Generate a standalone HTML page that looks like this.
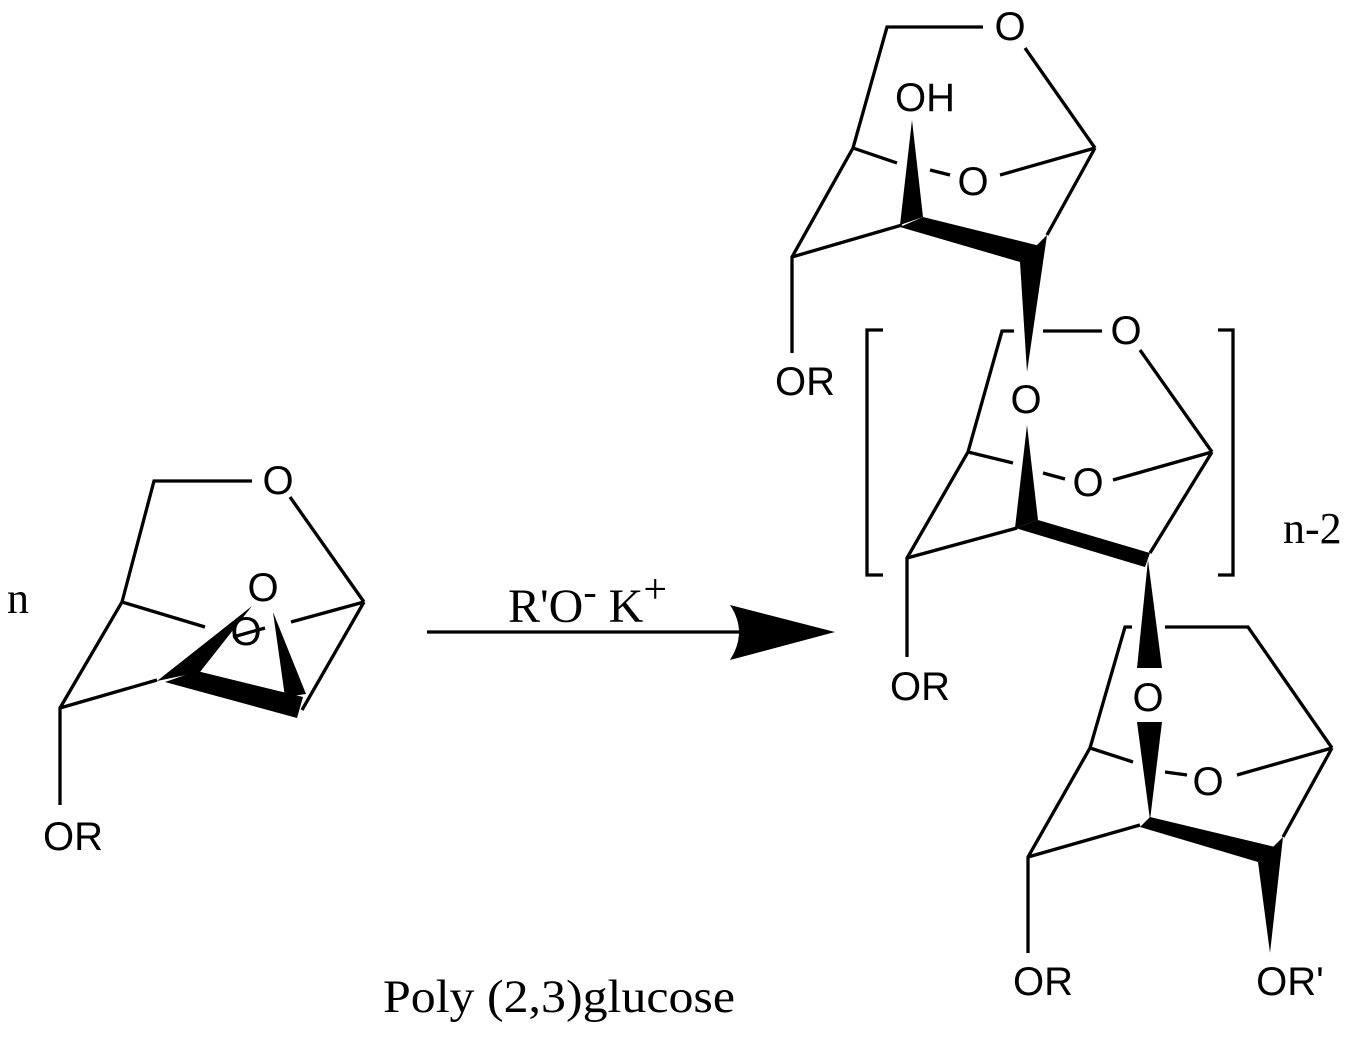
<!DOCTYPE html>
<html><head><meta charset="utf-8"><style>html,body{margin:0;padding:0;background:#fff}</style></head>
<body>
<svg width="1358" height="1034" viewBox="0 0 1358 1034" xmlns="http://www.w3.org/2000/svg">
<g stroke="#000" stroke-width="3.3" fill="none" stroke-linecap="butt">
<polyline points="252,481 154,481 122,602 60,708 60,805"/>
<line x1="290" y1="497" x2="364" y2="602"/>
<line x1="122" y1="602" x2="205" y2="627"/>
<line x1="364" y1="602" x2="291" y2="622"/>
<line x1="60" y1="708" x2="157" y2="680"/>
<line x1="364" y1="602" x2="302" y2="710"/>
<line x1="233" y1="637" x2="265" y2="628"/>
<polyline points="983,27 887,27 853,148 792,257 792,353"/>
<line x1="1025" y1="48" x2="1095" y2="148"/>
<line x1="853" y1="148" x2="897" y2="163"/>
<line x1="930" y1="170" x2="950" y2="175"/>
<line x1="1000" y1="175" x2="1095" y2="148"/>
<line x1="792" y1="257" x2="902" y2="225"/>
<line x1="1095" y1="148" x2="1047" y2="235"/>
<polyline points="1014,331 1002,331 968,452 907,558 907,657"/>
<line x1="1043" y1="331" x2="1102" y2="331"/>
<line x1="1140" y1="350" x2="1212" y2="452"/>
<line x1="968" y1="452" x2="1013" y2="463"/>
<line x1="1043" y1="473" x2="1065" y2="479"/>
<line x1="1113" y1="480" x2="1212" y2="452"/>
<line x1="907" y1="558" x2="1017" y2="528"/>
<line x1="1212" y1="452" x2="1150" y2="553"/>
<polyline points="883,330 867,330 867,575 883,575"/>
<polyline points="1218,330 1233,330 1233,575 1218,575"/>
<polyline points="1132,627 1125,627 1090,748 1028,857 1028,953"/>
<polyline points="1165,627 1248,627 1332,748"/>
<line x1="1090" y1="748" x2="1133" y2="762"/>
<line x1="1165" y1="772" x2="1187" y2="775"/>
<line x1="1237" y1="775" x2="1332" y2="748"/>
<line x1="1028" y1="857" x2="1140" y2="825"/>
<line x1="1332" y1="748" x2="1283" y2="837"/>
<line x1="427" y1="632" x2="760" y2="632"/>
</g>
<g fill="#000" stroke="none">
<polygon points="197,671 303,697 297,718 165,682"/>
<polygon points="157,681 200,672 252,606"/>
<polygon points="273,612 285,697 306,694"/>
<polygon points="912,120 900,225 923,217"/>
<polygon points="923,217 1040,246 1020,262 900,227"/>
<polygon points="1020,262 1047,235 1027,372"/>
<polygon points="1027,425 1015,528 1038,520"/>
<polygon points="1038,520 1150,553 1145,567 1015,528"/>
<polygon points="1148,560 1137,668 1162,668"/>
<polygon points="1137,722 1162,722 1150,820"/>
<polygon points="1150,817 1275,847 1258,862 1140,827"/>
<polygon points="1258,862 1283,837 1270,953"/>
<path d="M730,605 L835,632 L730,660 Q748,632 730,605 Z"/>
</g>
<g font-family="Liberation Sans, sans-serif" font-size="40" text-anchor="middle" dominant-baseline="central" fill="#000">
<text x="278" y="481">O</text>
<text x="263" y="588">O</text>
<text x="246" y="632">O</text>
<text x="73" y="837">OR</text>
<text x="1010" y="27">O</text>
<text x="925" y="98">OH</text>
<text x="973" y="182">O</text>
<text x="805" y="382">OR</text>
<text x="1126" y="331">O</text>
<text x="1026" y="400">O</text>
<text x="1088" y="483">O</text>
<text x="920" y="687">OR</text>
<text x="1148" y="698">O</text>
<text x="1208" y="782">O</text>
<text x="1043" y="982">OR</text>
<text x="1290" y="982">OR'</text>
</g>
<g font-family="Liberation Serif, serif" font-size="44" fill="#000">
<text x="7" y="613">n</text>
<text x="1283" y="543">n-2</text>
<text x="508" y="622" font-size="48">R'O<tspan dy="-17" font-size="40">-</tspan><tspan dy="17"> K</tspan><tspan dy="-19" font-size="42">+</tspan></text>
<text x="383" y="1012" font-size="47" textLength="352" lengthAdjust="spacingAndGlyphs">Poly (2,3)glucose</text>
</g>
</svg>
</body></html>
